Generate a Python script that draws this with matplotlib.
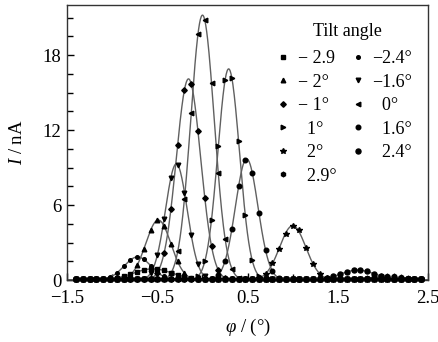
import numpy as np
import matplotlib
matplotlib.use("Agg")
import matplotlib.pyplot as plt
from matplotlib.lines import Line2D

plt.rcParams["font.family"] = "Liberation Serif"
plt.rcParams["mathtext.fontset"] = "custom"
plt.rcParams["mathtext.rm"] = "Liberation Serif"
plt.rcParams["mathtext.it"] = "Liberation Serif:italic"

# tilt angles and their legend text / symbols
tilt = [-2.9, -2.4, -2.0, -1.6, -1.0, 0.0, 1.0, 1.6, 2.0, 2.4, 2.9]
labels = ["\u2212 2.9", "\u22122.4\u00b0", "\u2212 2\u00b0", "\u22121.6\u00b0", "\u2212 1\u00b0",
          "  0\u00b0", "  1\u00b0", "  1.6\u00b0", "  2\u00b0", "  2.4\u00b0", "  2.9\u00b0"]
markers = ["s", "o", "^", "v", "D", "<", ">", "o", "*", "o", "h"]
msizes = [2.8, 2.6, 3.3, 3.3, 2.8, 3.3, 3.3, 3.3, 4.0, 3.6, 3.3]

# measured points, phi step 0.075 deg
phi = np.arange(-1.4, 2.45, 0.075)
# first index on phi where the signal leaves the baseline, and the values from there
peak_start = [5, 4, 7, 10, 11, 13, 18, 20, 27, 37, 42]
peak_vals = [
    [0.1, 0.17, 0.3, 0.47, 0.66, 0.81, 0.89, 0.88, 0.77, 0.6, 0.41, 0.25, 0.14],
    [0.1, 0.25, 0.6, 1.1, 1.6, 1.85, 1.65, 1.15, 0.65, 0.3, 0.1],
    [0.1, 0.4, 1.2, 2.5, 4.0, 4.8, 4.3, 2.9, 1.5, 0.6, 0.2],
    [0.1, 0.55, 2.0, 4.9, 8.2, 9.2, 7.0, 3.6, 1.3, 0.3, 0.1],
    [0.1, 0.6, 2.2, 5.7, 10.8, 15.2, 15.7, 11.9, 6.6, 2.7, 0.8, 0.2],
    [0.1, 0.6, 2.3, 6.5, 13.4, 19.7, 20.8, 15.8, 8.6, 3.3, 0.9, 0.2],
    [0.3, 1.5, 4.8, 10.7, 16.0, 16.2, 11.1, 5.2, 1.6, 0.35, 0.1],
    [0.1, 0.4, 1.5, 4.1, 7.5, 9.6, 8.6, 5.4, 2.4, 0.7, 0.15],
    [0.15, 0.5, 1.35, 2.5, 3.7, 4.3, 4.0, 2.6, 1.3, 0.5, 0.15],
    [0.15, 0.3, 0.47, 0.66, 0.78, 0.8, 0.7, 0.5, 0.33, 0.18, 0.1],
    [0.1, 0.16, 0.23, 0.29, 0.3, 0.29, 0.23, 0.16, 0.1],
]
baseline = 0.05

# gaussian fit of every scan
fit_center = [-0.55, -0.72, -0.49, -0.29, -0.155, 0.0, 0.29, 0.49, 1.0, 1.72, 2.05]
fit_height = [0.9, 1.85, 4.8, 9.3, 16.1, 21.2, 16.9, 9.7, 4.35, 0.8, 0.3]
fit_width = [0.22, 0.15, 0.14, 0.12, 0.135, 0.13, 0.12, 0.125, 0.145, 0.19, 0.2]

fig = plt.figure(figsize=(4.39, 3.42), dpi=100)
ax = fig.add_axes([0.153, 0.181, 0.822, 0.804])

xf = np.linspace(-1.5, 2.5, 800)
for i in range(len(tilt)):
    yf = fit_height[i] * np.exp(-(xf - fit_center[i]) ** 2 / (2 * fit_width[i] ** 2))
    ax.plot(xf, yf, color="#606060", lw=1.0, zorder=2)

for i in range(len(tilt)):
    y = np.full(len(phi), baseline)
    s = peak_start[i]
    y[s:s + len(peak_vals[i])] = peak_vals[i]
    ax.plot(phi, y, ls="none", marker=markers[i], ms=msizes[i], color="black",
            mec="black", clip_on=False, zorder=3)

ax.set_xlim(-1.5, 2.5)
ax.set_ylim(0, 22)
ax.set_xticks([-1.5, -0.5, 0.5, 1.5, 2.5])
ax.set_xticks([-1, 0, 1, 2], minor=True)
ax.set_xticklabels(["\u22121.5", "\u22120.5", "0.5", "1.5", "2.5"])
ax.set_yticks([0, 6, 12, 18])
ax.set_yticks(np.arange(0, 22, 1.5), minor=True)
ax.tick_params(which="both", direction="in", top=False, right=False, labelsize=13.5)
ax.tick_params(which="major", length=5, width=1)
ax.tick_params(which="minor", length=4, width=1)
ax.tick_params(axis="x", pad=7)
ax.tick_params(axis="y", pad=4)
for sp in ax.spines.values():
    sp.set_linewidth(1.0)
    sp.set_color("#333333")

ax.set_xlabel("$\\varphi$ / (\u00b0)", fontsize=13.5, labelpad=7)
ax.set_ylabel("$I$ / nA", fontsize=13.5, labelpad=12)

ax.text(0.776, 0.905, "Tilt angle", transform=ax.transAxes, ha="center",
        va="center", fontsize=13)

order = [0, 2, 4, 6, 8, 10, 1, 3, 5, 7, 9]
handles = [Line2D([], [], ls="none", marker=markers[i], ms=msizes[i], color="black")
           for i in order]
leg = ax.legend(handles, [labels[i] for i in order], ncol=2, frameon=False,
                loc="upper left", bbox_to_anchor=(0.579, 0.836),
                fontsize=13, labelspacing=0.36, handlelength=0.8,
                handletextpad=0.4, columnspacing=0.8, borderaxespad=0, borderpad=0)

fig.savefig("out.png", dpi=100)
